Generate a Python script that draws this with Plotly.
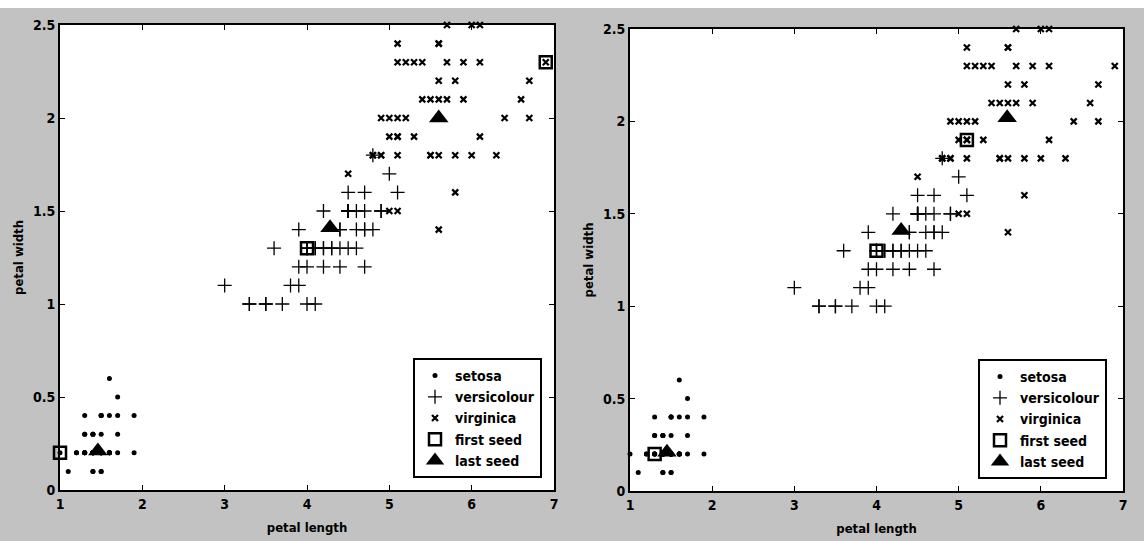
import plotly.graph_objects as go

# ---- data: iris petal measurements ----
setosa_length = [1.4, 1.4, 1.3, 1.5, 1.4, 1.7, 1.4, 1.5, 1.4, 1.5, 1.5, 1.6, 1.4, 1.1, 1.2, 1.5, 1.3, 1.4, 1.7, 1.5,
                 1.7, 1.5, 1.0, 1.7, 1.9, 1.6, 1.6, 1.5, 1.4, 1.6, 1.6, 1.5, 1.5, 1.4, 1.5, 1.2, 1.3, 1.4, 1.3, 1.5,
                 1.3, 1.3, 1.3, 1.6, 1.9, 1.4, 1.6, 1.4, 1.5, 1.4]
setosa_width = [0.2, 0.2, 0.2, 0.2, 0.2, 0.4, 0.3, 0.2, 0.2, 0.1, 0.2, 0.2, 0.1, 0.1, 0.2, 0.4, 0.4, 0.3, 0.3, 0.3,
                0.2, 0.4, 0.2, 0.5, 0.2, 0.2, 0.4, 0.2, 0.2, 0.2, 0.2, 0.4, 0.1, 0.2, 0.2, 0.2, 0.2, 0.1, 0.2, 0.2,
                0.3, 0.3, 0.2, 0.6, 0.4, 0.3, 0.2, 0.2, 0.2, 0.2]
versicolour_length = [4.7, 4.5, 4.9, 4.0, 4.6, 4.5, 4.7, 3.3, 4.6, 3.9, 3.5, 4.2, 4.0, 4.7, 3.6, 4.4, 4.5, 4.1, 4.5, 3.9,
                      4.8, 4.0, 4.9, 4.7, 4.3, 4.4, 4.8, 5.0, 4.5, 3.5, 3.8, 3.7, 3.9, 5.1, 4.5, 4.5, 4.7, 4.4, 4.1, 4.0,
                      4.4, 4.6, 4.0, 3.3, 4.2, 4.2, 4.2, 4.3, 3.0, 4.1]
versicolour_width = [1.4, 1.5, 1.5, 1.3, 1.5, 1.3, 1.6, 1.0, 1.3, 1.4, 1.0, 1.5, 1.0, 1.4, 1.3, 1.4, 1.5, 1.0, 1.5, 1.1,
                     1.8, 1.3, 1.5, 1.2, 1.3, 1.4, 1.4, 1.7, 1.5, 1.0, 1.1, 1.0, 1.2, 1.6, 1.5, 1.6, 1.5, 1.3, 1.3, 1.3,
                     1.2, 1.4, 1.2, 1.0, 1.3, 1.2, 1.3, 1.3, 1.1, 1.3]
virginica_length = [6.0, 5.1, 5.9, 5.6, 5.8, 6.6, 4.5, 6.3, 5.8, 6.1, 5.1, 5.3, 5.5, 5.0, 5.1, 5.3, 5.5, 6.7, 6.9, 5.0,
                    5.7, 4.9, 6.7, 4.9, 5.7, 6.0, 4.8, 4.9, 5.6, 5.8, 6.1, 6.4, 5.6, 5.1, 5.6, 6.1, 5.6, 5.5, 4.8, 5.4,
                    5.6, 5.1, 5.1, 5.9, 5.7, 5.2, 5.0, 5.2, 5.4, 5.1]
virginica_width = [2.5, 1.9, 2.1, 1.8, 2.2, 2.1, 1.7, 1.8, 1.8, 2.5, 2.0, 1.9, 2.1, 2.0, 2.4, 2.3, 1.8, 2.2, 2.3, 1.5,
                   2.3, 2.0, 2.0, 1.8, 2.1, 1.8, 1.8, 1.8, 2.1, 1.6, 1.9, 2.0, 2.2, 1.5, 1.4, 2.3, 2.4, 1.8, 1.8, 2.1,
                   2.4, 2.3, 1.9, 2.3, 2.5, 2.3, 1.9, 2.0, 2.3, 1.8]

# seeds, left panel
left_first_seed_length = [1.0, 4.0, 6.9]
left_first_seed_width = [0.2, 1.3, 2.3]
left_last_seed_length = [1.46, 4.28, 5.6]
left_last_seed_width = [0.21, 1.41, 2.0]
# seeds, right panel
right_first_seed_length = [1.3, 4.0, 5.1]
right_first_seed_width = [0.2, 1.3, 1.9]
right_last_seed_length = [1.45, 4.3, 5.59]
right_last_seed_width = [0.21, 1.41, 2.02]

x_ticks = [1, 2, 3, 4, 5, 6, 7]
x_tick_labels = ["1", "2", "3", "4", "5", "6", "7"]
y_ticks = [0, 0.5, 1, 1.5, 2, 2.5]
y_tick_labels = ["0", "0.5", "1", "1.5", "2", "2.5"]

FONT = "Liberation Sans Narrow, Arial Narrow, DejaVu Sans Condensed, Liberation Sans, sans-serif"
W, H = 1144, 541
GRAY = "#c2c2c2"

fig = go.Figure()


def add_panel(xa, ya, leg, first_l, first_w, last_l, last_w):
    common = dict(xaxis=xa, yaxis=ya, legend=leg, mode="markers", cliponaxis=False)
    fig.add_trace(go.Scatter(x=setosa_length, y=setosa_width, name="setosa",
                             marker=dict(symbol="circle", size=5, color="black"), **common))
    fig.add_trace(go.Scatter(x=versicolour_length, y=versicolour_width, name="versicolour",
                             marker=dict(symbol="cross-thin", size=10, color="black",
                                         line=dict(color="black", width=1.3)), **common))
    fig.add_trace(go.Scatter(x=virginica_length, y=virginica_width, name="virginica",
                             marker=dict(symbol="x-thin", size=6, color="black",
                                         line=dict(color="black", width=2.2)), **common))
    fig.add_trace(go.Scatter(x=first_l, y=first_w, name="first seed",
                             marker=dict(symbol="square-open", size=12, color="black",
                                         line=dict(color="black", width=2.5)), **common))
    fig.add_trace(go.Scatter(x=last_l, y=last_w, name="last seed",
                             marker=dict(symbol="triangle-up", size=17, color="black",
                                         line=dict(width=0)), **common))


add_panel("x", "y", "legend", left_first_seed_length, left_first_seed_width,
          left_last_seed_length, left_last_seed_width)
add_panel("x2", "y2", "legend2", right_first_seed_length, right_first_seed_width,
          right_last_seed_length, right_last_seed_width)

axis_common = dict(showline=True, linecolor="black", linewidth=2, mirror="ticks",
                   ticks="inside", ticklen=5, tickwidth=1.2, tickcolor="black",
                   showgrid=False, zeroline=False, automargin=False,
                   tickfont=dict(family=FONT, size=14, color="black", weight="bold"))
xt = dict(range=[1, 7], tickvals=x_ticks, ticktext=x_tick_labels,
          title=dict(text="petal length", font=dict(family=FONT, size=13, color="black", weight="bold"),
                     standoff=12))
yt = dict(range=[0, 2.5], tickvals=y_ticks, ticktext=y_tick_labels,
          title=dict(text="petal width", font=dict(family=FONT, size=13, color="black", weight="bold"),
                     standoff=6))

legend_common = dict(bgcolor="white", bordercolor="black", borderwidth=2,
                     font=dict(family=FONT, size=14, color="black", weight="bold"),
                     xanchor="left", yanchor="top", xref="paper", yref="paper",
                     itemsizing="trace", tracegroupgap=0)

# gray frame around the two plot areas (pixel boxes -> paper fractions), white strip on top
left_box = (60, 554, 25, 490)
right_box = (630, 1123, 29, 491)
TOP = 8
frame_px = [
    (0, left_box[0], TOP, H),
    (left_box[1], right_box[0], TOP, H),
    (right_box[1], W, TOP, H),
    (left_box[0], left_box[1], TOP, left_box[2]),
    (left_box[0], left_box[1], left_box[3], H),
    (right_box[0], right_box[1], TOP, right_box[2]),
    (right_box[0], right_box[1], right_box[3], H),
]
shapes = [dict(type="rect", xref="paper", yref="paper",
               x0=a / W, x1=b / W, y0=1 - d / H, y1=1 - c / H,
               fillcolor=GRAY, line=dict(width=0), layer="below")
          for a, b, c, d in frame_px]

fig.update_layout(
    template="none",
    width=W, height=H,
    margin=dict(l=0, r=0, t=0, b=0, pad=0, autoexpand=False),
    paper_bgcolor="white",
    plot_bgcolor="white",
    xaxis=dict(domain=[left_box[0] / W, left_box[1] / W], anchor="y", **axis_common, **xt),
    yaxis=dict(domain=[(H - left_box[3]) / H, (H - left_box[2]) / H], anchor="x", **axis_common, **yt),
    xaxis2=dict(domain=[right_box[0] / W, right_box[1] / W], anchor="y2", **axis_common, **xt),
    yaxis2=dict(domain=[(H - right_box[3]) / H, (H - right_box[2]) / H], anchor="x2", **axis_common, **yt),
    legend=dict(x=413 / W, y=1 - 358 / H, **legend_common),
    legend2=dict(x=978 / W, y=1 - 359 / H, **legend_common),
    shapes=shapes,
    showlegend=True,
)

fig.write_html("out.html")
